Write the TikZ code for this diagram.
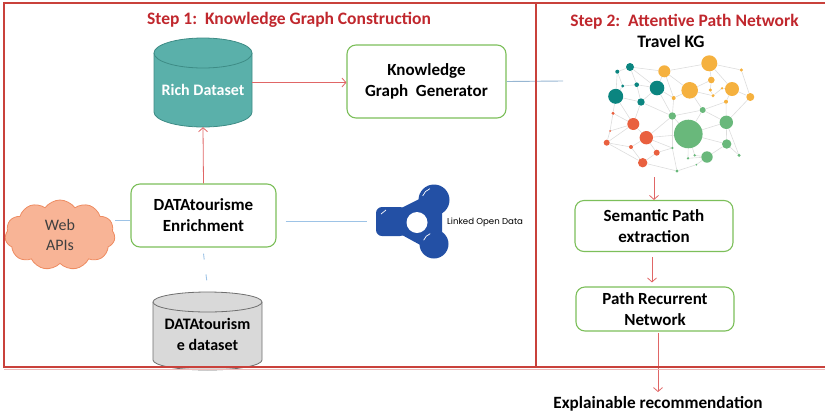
\documentclass[tikz,border=0pt]{standalone}
\usepackage{fontspec}
\setmainfont{Carlito}
\newfontfamily\lodfont{Poppins}
\usetikzlibrary{shapes.symbols,arrows.meta,backgrounds}

\definecolor{framered}{HTML}{C9413B}
\definecolor{titlered}{HTML}{C0272D}
\definecolor{boxgreen}{HTML}{7CBF5A}
\definecolor{arrowred}{HTML}{E06666}
\definecolor{linkblue}{HTML}{9DC3E6}
\definecolor{richteal}{HTML}{5AB0AA}
\definecolor{richedge}{HTML}{3E8C86}
\definecolor{dbgray}{HTML}{D9D9D9}
\definecolor{dbedge}{HTML}{6F6F6F}
\definecolor{cloudfill}{HTML}{F8B496}
\definecolor{cloudedge}{HTML}{EE8C62}
\definecolor{lodblue}{HTML}{2350A5}
\definecolor{kgteal}{HTML}{0B8580}
\definecolor{kgorange}{HTML}{F5B13F}
\definecolor{kggreen}{HTML}{69B87B}
\definecolor{kgred}{HTML}{E9603F}
\definecolor{kgline}{HTML}{DDDDDD}

% drum: name, x, y, half width, half height, end radius, style
\newcommand{\dbdrum}[7]{%
  \filldraw[#7] (#2-#4,#3-#5+#6) -- (#2-#4,#3+#5-#6) arc (180:0:#4 and #6)
    -- (#2+#4,#3-#5+#6) arc (0:-180:#4 and #6) -- cycle;
  \draw[#7] (#2-#4,#3-#5+#6) arc (180:0:#4 and #6);
  \node[minimum width=2*#4*1pt, minimum height=2*#5*1pt, inner sep=0pt] (#1) at (#2,#3) {};
}

\tikzset{
  stepbox/.style={draw=boxgreen, line width=1.1pt, rounded corners=9pt, fill=white,
    align=center, font=\fontsize{17}{21}\selectfont\bfseries},
  drumtext/.style={align=center, font=\fontsize{16}{21}\selectfont\bfseries},
  title/.style={font=\fontsize{17.5}{20}\selectfont\bfseries, text=titlered},
  flow/.style={arrowred, line width=0.8pt, -{Straight Barb[length=4pt,width=9pt]}},
  link/.style={linkblue, line width=0.9pt},
  dot/.style={circle, inner sep=0pt, fill=#1},
}

\begin{document}
\begin{tikzpicture}[x=1pt,y=-1pt]
\useasboundingbox (0,0) rectangle (825,416);

% titles
\node[title] (step1) at (289,20) {Step 1:\ \ Knowledge Graph Construction};
\node[title] (step2) at (684.5,22) {Step 2:\ \ Attentive Path Network};
\node[font=\fontsize{17.5}{20}\selectfont\bfseries] (travel) at (671,41) {Travel KG};

% step 1
\dbdrum{rich}{203}{82.5}{49}{44.5}{15}{draw=richedge, fill=richteal, line width=0.8pt}
\node[drumtext, text=white] (richtext) at ([yshift=-7.5pt]rich.center) {Rich Dataset};
\node[stepbox, minimum width=159pt, minimum height=73pt] (kgg) at (426.5,81.5) {Knowledge\\Graph\ \ Generator};
\node[stepbox, minimum width=145pt, minimum height=63pt] (enrich) at (203.5,215.5) {DATAtourisme\\Enrichment};
\node[cloud, cloud puffs=11, cloud puff arc=110, aspect=1.6, draw=cloudedge, fill=cloudfill, line width=0.8pt,
  minimum width=110pt, minimum height=70pt, align=center, text=black!75,
  font=\fontsize{16}{20}\selectfont] (web) at (60,235) {Web\\APIs};
\dbdrum{tourdata}{207.5}{331}{54.5}{39}{10}{draw=dbedge, fill=dbgray, line width=0.8pt}
\node[drumtext] (tourtext) at ([yshift=-3pt]tourdata.center) {DATAtourism\\e dataset};
\node[minimum width=74pt, minimum height=72pt, inner sep=0pt] (lodlogo) at (413,222) {};
\node[font=\lodfont\fontsize{8.6}{10}\selectfont, anchor=west, inner sep=0pt] (lod) at (447,222) {Linked Open Data};

% linked open data logo
\filldraw[lodblue, line width=14pt, line join=round] (391,221) -- (435,199) -- (435,245) -- cycle;
\fill[lodblue, rounded corners=6pt] (376,207) rectangle (406,236);
\fill[lodblue] (434,200) circle (15.5);
\fill[lodblue] (434,244) circle (14.5);
\fill[white] (417,222.5) circle (10.5);
\draw[white, line width=0.7pt] (434,200) ++(200:12) arc (200:250:12);
\draw[white, line width=0.7pt] (434,244) ++(200:11) arc (200:250:11);
\draw[white, line width=0.7pt] (381,214) -- (386,210);

\draw[flow] (rich.east) -- (kgg.west |- rich.east);
\draw[flow] (enrich.north) -- (rich.south);
\draw[link] ([yshift=-4.5pt]enrich.west) -- ([yshift=-4.5pt]enrich.west -| web.east);
\draw[link] ([xshift=9pt,yshift=-5.5pt]enrich.east) -- ([xshift=-9pt,yshift=-5.5pt]enrich.east -| lodlogo.west);
\draw[link, dash pattern=on 6pt off 15pt] ([yshift=-6pt]enrich.south) -- ([yshift=5pt]tourdata.north);
\coordinate (kgend) at (563,81);
\draw[link, linkblue!80!gray] (kgg.east) -- (kgend);

% step 2: travel knowledge graph
\node[minimum width=155pt, minimum height=122pt, inner sep=0pt] (kg) at (679,116) {};
\foreach \n/\x/\y/\r/\c in {
  t1/617.3/71.7/2/kgteal, t2/630/67/4/kgteal, t3/615.7/96.3/7.5/kgteal,
  t4/622.7/86/1.7/kgteal, t5/636.7/84.7/2.3/kgteal, t6/657/88/7.3/kgteal,
  t7/641/102/3.7/kgteal,
  o1/664.3/71.3/6/kgorange, o2/709.3/63.3/8/kgorange, o3/741.3/70/1.7/kgorange,
  o4/711.3/80/3.3/kgorange, o5/689.7/90.3/8.3/kgorange, o6/732/89/7/kgorange,
  o7/750.3/97/4/kgorange, o8/673.7/98/2/kgorange, o9/710.3/90/1.7/kgorange,
  o10/722/88.3/1.3/kgorange, o11/713/95.7/1.7/kgorange, o12/726/101.7/2/kgorange,
  g1/702.7/110/3/kggreen, g2/672.3/116/3.7/kggreen, g3/688.3/134/14.3/kggreen,
  g4/726.3/122.3/6.7/kggreen, g5/726.7/144/4.7/kggreen, g6/707/157/5.7/kggreen,
  g7/739/155.3/1.7/kggreen, g8/672.3/148/1.3/kggreen, g9/688/158.3/1.3/kggreen,
  g10/694.7/155.3/1.3/kggreen, g11/696.3/164.7/1/kggreen, g12/677/171/1.7/kggreen,
  r1/613/113.3/1.7/kgred, r2/633.3/124/6/kgred, r3/610/131/1/kgred,
  r4/646.3/137.7/6.7/kgred, r5/606.7/142.7/3/kgred, r6/631/147/2/kgred,
  r7/656.7/152.7/3/kgred, r8/642.7/162.7/4.7/kgred}
  \node[dot=\c, minimum size={2*\r*1pt}] (\n) at (\x,\y) {};
\begin{scope}[on background layer]
  \foreach \a/\b in {t1/t2, t1/t3, t1/t4, t2/t5, t2/o1, t2/t6, t3/t4, t3/t7, t3/r1, t3/r2,
    t4/t5, t5/t6, t5/t7, t6/o1, t6/t7, t6/o8, t6/g2, t7/r2, t7/g2, o1/o2, o1/o5, o1/o8,
    o2/o3, o2/o4, o2/o6, o3/o7, o4/o5, o4/o9, o5/o8, o5/g1, o5/o11, o6/o7, o6/o10,
    o6/o12, o7/g4, o12/g1, o12/g4, o9/o11, o10/o11, o8/g2, g1/g2, g1/g3, g1/g4, g2/g3,
    g2/r4, g2/g8, g3/g4, g3/g5, g3/r4, g3/g10, g4/g5, g4/g7, g5/g6, g5/g7, g6/g10,
    g6/g9, g6/g11, g3/g9, g8/g12, g11/g12, g8/r7, r1/r2, r1/r3, r2/r3, r2/r4, r2/r5,
    r3/r5, r4/r6, r4/r7, r5/r6, r5/r8, r6/r8, r7/r8, r8/g12, r4/g8}
    \draw[kgline, line width=0.6pt] (\a) -- (\b);
\end{scope}

\node[stepbox, minimum width=158pt, minimum height=51pt] (sem) at (654,226) {Semantic Path\\extraction};
\node[stepbox, minimum width=158pt, minimum height=44pt] (prn) at (655,309) {Path Recurrent\\Network};
\node[font=\fontsize{17.2}{20}\selectfont\bfseries] (explain) at (658,404) {Explainable recommendation};

\draw[flow] (sem.north |- kg.south) -- (sem.north);
\draw[flow, shorten <=5pt, shorten >=4pt] ([xshift=-2pt]sem.south) -- ([xshift=-3pt]prn.north);
\draw[flow, shorten <=1pt, shorten >=1pt] ([xshift=3pt]prn.south) -- (explain.north);

% panel frames
\draw[framered, line width=1.5pt] (825,3) -- (4,3) -- (4,367) -- (825,367);
\draw[framered!35, line width=1pt] (4,369.5) -- (825,369.5);
\draw[framered, line width=2.4pt] (536,3) -- (536,367);
\end{tikzpicture}
\end{document}
